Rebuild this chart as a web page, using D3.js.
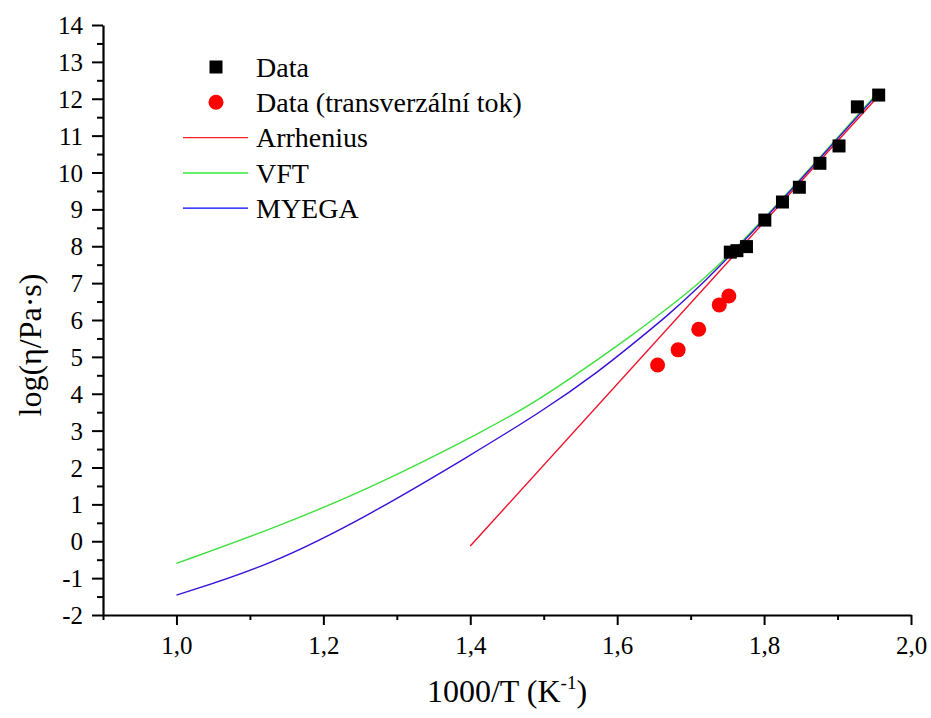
<!DOCTYPE html>
<html>
<head>
<meta charset="utf-8">
<script src="https://cdn.jsdelivr.net/npm/d3@7"></script>
<style>
  html, body { margin: 0; padding: 0; background: #fff; }
  svg text { font-family: "Liberation Serif", "Times New Roman", serif; fill: #000; }
</style>
</head>
<body>
<svg id="chart" width="931" height="718"></svg>
<script>
// Measured viscosity (black squares)
const dataX = [1.754, 1.763, 1.776, 1.801, 1.825, 1.848, 1.876, 1.902, 1.927, 1.956];
const dataY = [7.84, 7.88, 7.99, 8.71, 9.20, 9.60, 10.25, 10.72, 11.78, 12.10];

// Transverse-flow measurements (red circles)
const transX = [1.655, 1.683, 1.711, 1.739, 1.752];
const transY = [4.78, 5.19, 5.75, 6.41, 6.65];

// Model curves
const arrX = [1.40, 1.956];
const arrY = [-0.13, 12.08];

const vftX = [1.00, 1.127, 1.263, 1.422, 1.495, 1.576, 1.620, 1.667, 1.712, 1.760, 1.850, 1.956];
const vftY = [-0.60, 0.31, 1.42, 3.02, 3.85, 4.96, 5.58, 6.29, 7.00, 7.90, 9.82, 12.20];

const myegaX = [1.00, 1.127, 1.263, 1.400, 1.500, 1.576, 1.620, 1.667, 1.712, 1.760, 1.850, 1.956];
const myegaY = [-1.46, -0.66, 0.71, 2.33, 3.55, 4.62, 5.33, 6.09, 6.90, 7.87, 9.80, 12.16];

const xTicks = [1.0, 1.2, 1.4, 1.6, 1.8, 2.0];
const yTicks = [-2, -1, 0, 1, 2, 3, 4, 5, 6, 7, 8, 9, 10, 11, 12, 13, 14];

const legendLabels = ["Data", "Data (transverzální tok)", "Arrhenius", "VFT", "MYEGA"];

const SERIF = '"Liberation Serif", "Times New Roman", serif';
const svg = d3.select("#chart");
const x = d3.scaleLinear().domain([0.9, 2.0]).range([103, 911]);
const y = d3.scaleLinear().domain([-2, 14]).range([615, 25]);

const fmtX = d => d.toFixed(1).replace(".", ",");
const fmtY = d => String(d);   // plain hyphen for negatives

// X axis: major ticks every 0.2, minor every 0.1
const xAxis = svg.append("g").attr("transform", `translate(0,${y(-2)})`)
  .call(d3.axisBottom(x).tickValues(xTicks).tickFormat(fmtX).tickSize(10).tickSizeOuter(0).tickPadding(10));
const xMinor = svg.append("g").attr("transform", `translate(0,${y(-2)})`)
  .call(d3.axisBottom(x).tickValues([0.9, 1.1, 1.3, 1.5, 1.7, 1.9]).tickFormat("").tickSize(5).tickSizeOuter(0));
xMinor.select(".domain").remove();

// Y axis: major ticks every 1, minor every 0.5
const yAxis = svg.append("g").attr("transform", `translate(${x(0.9)},0)`)
  .call(d3.axisLeft(y).tickValues(yTicks).tickFormat(fmtY).tickSize(11).tickSizeOuter(0).tickPadding(9));
const yMinor = svg.append("g").attr("transform", `translate(${x(0.9)},0)`)
  .call(d3.axisLeft(y).tickValues(d3.range(-1.5, 14, 1)).tickFormat("").tickSize(6).tickSizeOuter(0));
yMinor.select(".domain").remove();

svg.selectAll("g").attr("font-family", null).attr("font-size", null);
svg.selectAll(".domain").attr("stroke", "#000").attr("stroke-width", 2.2);
svg.selectAll(".tick line").attr("stroke", "#000").attr("stroke-width", 2);
svg.selectAll(".tick text")
  .style("font-family", SERIF).style("font-size", "25px").style("fill", "#000");
yAxis.selectAll(".tick text").attr("dy", "0.34em");
xAxis.selectAll(".tick text").attr("dy", "0.75em");

// Axis titles
svg.append("text")
  .attr("x", 507).attr("y", 702)
  .attr("text-anchor", "middle").style("font-size", "32px")
  .call(t => {
    t.append("tspan").text("1000/T (K");
    t.append("tspan").style("font-size", "19px").attr("dy", -13).text("-1");
    t.append("tspan").attr("dy", 13).text(")");
  });

svg.append("text")
  .attr("transform", "translate(41,345) rotate(-90)")
  .attr("text-anchor", "middle").style("font-size", "32px")
  .text("log(η/Pa·s)");

// Curves
const line = d3.line().x(d => x(d[0])).y(d => y(d[1])).curve(d3.curveBasis);
const zip = (a, b) => a.map((v, i) => [v, b[i]]);

svg.append("path").datum(zip(vftX, vftY))
  .attr("d", line).attr("fill", "none").attr("stroke", "#3ee03e").attr("stroke-width", 1.4);
svg.append("path").datum(zip(myegaX, myegaY))
  .attr("d", line).attr("fill", "none").attr("stroke", "#3a10d8").attr("stroke-width", 1.4);
svg.append("path").datum(zip(arrX, arrY))
  .attr("d", d3.line().x(d => x(d[0])).y(d => y(d[1])))
  .attr("fill", "none").attr("stroke", "#f0102a").attr("stroke-width", 1.4);

// Points
const sq = 13;
svg.append("g").selectAll("rect").data(zip(dataX, dataY)).join("rect")
  .attr("x", d => x(d[0]) - sq / 2).attr("y", d => y(d[1]) - sq / 2)
  .attr("width", sq).attr("height", sq).attr("fill", "#000");

svg.append("g").selectAll("circle").data(zip(transX, transY)).join("circle")
  .attr("cx", d => x(d[0])).attr("cy", d => y(d[1])).attr("r", 7.5).attr("fill", "#ff0000");

// Legend
const leg = svg.append("g");
const rowY = i => 67 + i * 35.3;
leg.append("rect").attr("x", 216 - 6.5).attr("y", rowY(0) - 6.5).attr("width", 13).attr("height", 13).attr("fill", "#000");
leg.append("circle").attr("cx", 216).attr("cy", rowY(1)).attr("r", 7.5).attr("fill", "#ff0000");
const legColors = ["#ff2020", "#66ee66", "#0000ff"];
const legWidths = [1.2, 2, 1.2];
legColors.forEach((c, i) => {
  leg.append("line").attr("x1", 183).attr("x2", 248)
    .attr("y1", rowY(i + 2)).attr("y2", rowY(i + 2))
    .attr("stroke", c).attr("stroke-width", legWidths[i]);
});
legendLabels.forEach((t, i) => {
  leg.append("text").attr("x", 256).attr("y", rowY(i)).attr("dy", "0.35em")
    .style("font-size", "28px").text(t);
});
</script>
</body>
</html>
